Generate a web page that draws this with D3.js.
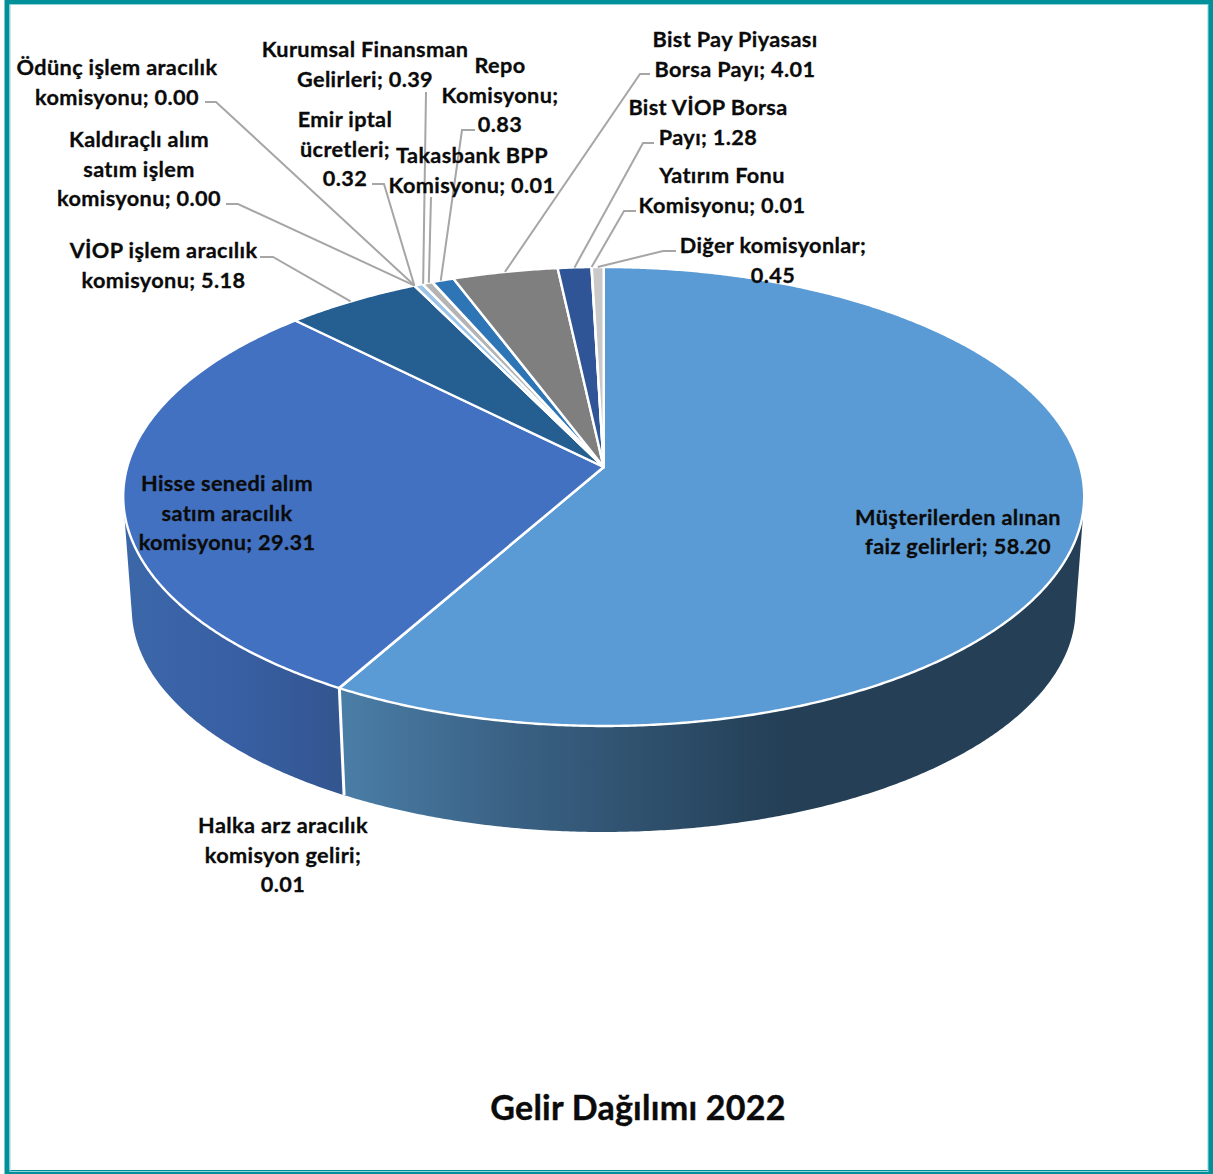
<!DOCTYPE html>
<html>
<head>
<meta charset="utf-8">
<script src="https://cdn.jsdelivr.net/npm/d3@7/dist/d3.min.js"></script>
<style>html,body{margin:0;padding:0;background:#fff}svg{display:block}</style>
</head>
<body>
<script>
const categories = ["Müşterilerden alınan faiz gelirleri","Halka arz aracılık komisyon geliri","Hisse senedi alım satım aracılık komisyonu","VİOP işlem aracılık komisyonu","Kaldıraçlı alım satım işlem komisyonu","Ödünç işlem aracılık komisyonu","Emir iptal ücretleri","Kurumsal Finansman Gelirleri","Takasbank BPP Komisyonu","Repo Komisyonu","Bist Pay Piyasası Borsa Payı","Bist VİOP Borsa Payı","Yatırım Fonu Komisyonu","Diğer komisyonlar"];
const values = [58.20,0.01,29.31,5.18,0.00,0.00,0.32,0.39,0.01,0.83,4.01,1.28,0.01,0.45];
const colors = ["#5B9BD5","#ED7D31","#4371C1","#255E91","#FFC000","#A5A5A5","#9DC3E6","#B4B4B4","#264478","#2E75B6","#7F7F7F","#2F5597","#C9C9C9","#C9C9C9"];
const labelLines = [
 ["Müşterilerden alınan","faiz gelirleri; 58.20"],
 ["Halka arz aracılık","komisyon geliri;","0.01"],
 ["Hisse senedi alım","satım aracılık","komisyonu; 29.31"],
 ["VİOP işlem aracılık","komisyonu; 5.18"],
 ["Kaldıraçlı alım","satım işlem","komisyonu; 0.00"],
 ["Ödünç işlem aracılık","komisyonu; 0.00"],
 ["Emir iptal","ücretleri;","0.32"],
 ["Kurumsal Finansman","Gelirleri; 0.39"],
 ["Takasbank BPP","Komisyonu; 0.01"],
 ["Repo","Komisyonu;","0.83"],
 ["Bist Pay Piyasası","Borsa Payı; 4.01"],
 ["Bist VİOP Borsa","Payı; 1.28"],
 ["Yatırım Fonu","Komisyonu; 0.01"],
 ["Diğer komisyonlar;","0.45"]
];
const title = "Gelir Dağılımı 2022";

// layout: label centre x, first baseline y
const labelPos = [[958,524.5],[283,833],[227,491],[163.5,258],[139,147],[117,75],[345,127],[365,57],[472,163],[500,73],[735,47],[708,115],[722,183],[773,253]];
// leader elbows: [text-side x, elbow x, y] (null = no leader)
const leaders = [null,null,null,[260,273,257],[226,238,204],[205,216,102],[372,384,184],[426,426,92],[431,431,197],[475,462,130],[650,640,74],[654,643,143],[636,624,211],[676,663,251]];
// small angular nudge (degrees) of the leader's end on the rim
const leaderNudge = [0,0,0,-0.3,0,0,-0.6,-0.6,-0.5,-0.3,0,0,0,0];

const W=1213,H=1174, FS=21.7, LH=29.6;
const svg=d3.select("body").append("svg").attr("width",W).attr("height",H).attr("viewBox",[0,0,W,H]);
const defs=svg.append("defs");

function grad(id,x1,x2,stops){
  const g=defs.append("linearGradient").attr("id",id).attr("gradientUnits","userSpaceOnUse")
    .attr("x1",x1).attr("x2",x2).attr("y1",0).attr("y2",0);
  stops.forEach(s=>g.append("stop").attr("offset",s[0]).attr("stop-color",s[1]));
}
grad("wallA",345,1075,[[0,"#4A7DA6"],[0.22,"#3A6285"],[0.6,"#243F56"],[1,"#243F56"]]);
grad("wallB",130,345,[[0,"#3B67A9"],[0.5,"#385FA3"],[1,"#33558F"]]);

// perspective projection of a disc
const k=0.1285, cx=603.7;
function proj(disc,theta){
  const s=Math.sin(theta), v=-Math.cos(theta), w=1-k*v;
  return [cx+disc.B*s/w, disc.y0+disc.A*v/w];
}
const topDisc={B:476.5,A:225.7,y0:467}, botDisc={B:468,A:219.6,y0:580};

const pie=d3.pie().value(d=>d).sort(null).startAngle(0).endAngle(2*Math.PI);
const arcs=pie(values);
const line=d3.line();
const deg=Math.PI/180;
function arcPts(disc,a,b){
  const n=Math.max(2,Math.ceil(Math.abs(b-a)/(0.4*deg)));
  return d3.range(n+1).map(i=>proj(disc,a+(b-a)*i/n));
}

// side walls
const wallStart=100*deg, wallEnd=260*deg;
const sep=arcs[0].endAngle;
const walls=[[wallStart,sep,"url(#wallA)"],[sep,wallEnd,"url(#wallB)"]];
walls.forEach(w=>{
  const pts=arcPts(topDisc,w[0],w[1]).concat(arcPts(botDisc,w[1],w[0]));
  svg.append("path").attr("d",line(pts)+"Z").attr("fill",w[2]);
});
svg.append("path").attr("d",line([proj(topDisc,sep),proj(botDisc,sep)]))
  .attr("stroke","#fff").attr("stroke-width",3).attr("fill","none");

// top slices
const apex=[cx,topDisc.y0];
arcs.forEach((d,i)=>{
  const pts=[apex].concat(arcPts(topDisc,d.startAngle,d.endAngle));
  svg.append("path").attr("d",line(pts)+"Z").attr("fill",colors[i])
    .attr("stroke","#fff").attr("stroke-width",2.4).attr("stroke-linejoin","round");
});

// leader lines
arcs.forEach((d,i)=>{
  const l=leaders[i]; if(!l) return;
  const end=proj(topDisc,(d.startAngle+d.endAngle)/2+leaderNudge[i]*deg);
  svg.append("path").attr("d",line([[l[0],l[2]],[l[1],l[2]],end]))
    .attr("fill","none").attr("stroke","#A6A6A6").attr("stroke-width",2);
});

// labels
const font="Lato, 'Open Sans', sans-serif";
labelLines.forEach((lines,i)=>{
  const t=svg.append("text").attr("text-anchor","middle").attr("font-family",font)
    .attr("font-weight",700).attr("font-size",FS).attr("letter-spacing",0.35)
    .attr("fill","#0b0b0b").attr("stroke","#0b0b0b").attr("stroke-width",0.3);
  lines.forEach((s,j)=>t.append("tspan").attr("x",labelPos[i][0]).attr("y",labelPos[i][1]+j*LH).text(s));
});

svg.append("text").attr("x",638).attr("y",1119.5).attr("text-anchor","middle").attr("font-family",font)
  .attr("font-weight",700).attr("font-size",34).attr("letter-spacing",0.25)
  .attr("fill","#0b0b0b").attr("stroke","#0b0b0b").attr("stroke-width",0.4).text(title);

// frame
svg.append("rect").attr("x",7).attr("y",2).attr("width",1203.5).attr("height",1170.5)
  .attr("fill","none").attr("stroke","#00909A").attr("stroke-width",5);
svg.append("rect").attr("x",10).attr("y",4.5).attr("width",1198).attr("height",1167)
  .attr("fill","none").attr("stroke","#8FD3D8").attr("stroke-width",1);
</script>
</body>
</html>
